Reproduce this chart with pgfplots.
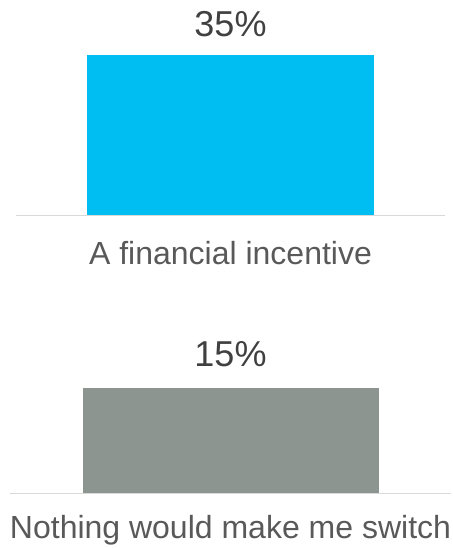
\documentclass[border=0pt]{standalone}
\usepackage{pgfplots}
\pgfplotsset{compat=1.18}
\usepackage{fontspec}
\setmainfont{Liberation Sans}
\definecolor{barcyan}{RGB}{0,190,242}
\definecolor{bargray}{RGB}{140,149,143}
\definecolor{axisgray}{RGB}{217,217,217}
\definecolor{valtext}{RGB}{64,64,64}
\definecolor{cattext}{RGB}{89,89,89}
\pgfplotsset{
  panel/.style={
    scale only axis,
    anchor=south west,
    xmin=-1, xmax=1, ymin=0,
    axis x line*=bottom, axis y line=none,
    x axis line style={axisgray, line width=1.5pt, -},
    xtick=data, major tick length=0pt,
    ytick=\empty,
    clip=false,
    enlargelimits=false,
    /pgf/number format/assume math mode=true,
    xticklabel style={anchor=base, font=\fontsize{32}{36}\selectfont, text=cattext, inner sep=0pt},
    nodes near coords={\pgfmathprintnumber{\pgfplotspointmeta}\%},
    every node near coord/.append style={anchor=base, font=\fontsize{36}{40}\selectfont, text=valtext, inner sep=0pt},
  }
}
\begin{document}
\begin{tikzpicture}
\path[use as bounding box] (0pt,0pt) rectangle (452pt,548pt);
% top panel
\begin{axis}[panel,
  at={(16pt,332.5pt)}, width=429pt, height=160pt, ymax=35,
  xticklabels={A financial incentive},
  xticklabel style={yshift=-49.5pt},
  every node near coord/.append style={yshift=19pt}]
\addplot[ybar, bar width=287pt, fill=barcyan, draw=none] coordinates {(0,35)};
\end{axis}
% bottom panel
\begin{axis}[panel,
  at={(10pt,54.5pt)}, width=441pt, height=105.5pt, ymax=15,
  xticklabels={Nothing would make me switch},
  xticklabel style={yshift=-45pt},
  every node near coord/.append style={yshift=21pt}]
\addplot[ybar, bar width=296pt, fill=bargray, draw=none] coordinates {(0,15)};
\end{axis}
\end{tikzpicture}
\end{document}
